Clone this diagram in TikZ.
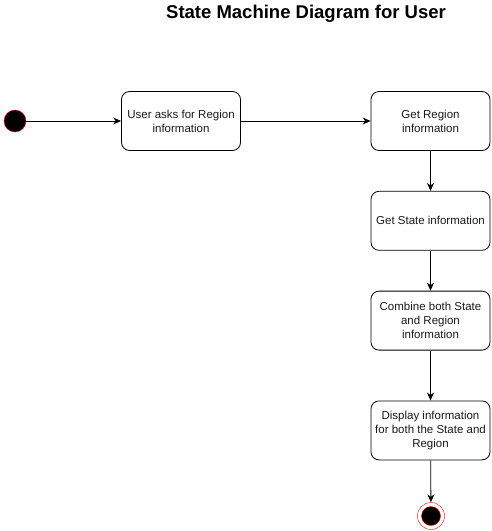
\documentclass[tikz,border=0pt]{standalone}
\usepackage{fontspec}
\setmainfont{Liberation Sans}
\usetikzlibrary{positioning,arrows.meta}
\definecolor{boxtext}{rgb}{0.1, 0.1, 0.1}

\begin{document}
\begin{tikzpicture}[
    x=1pt, y=-1pt,
    >={Stealth[length=8pt,width=7pt]},
    state/.style={draw, line width=0.8pt, rounded corners=8pt, minimum height=59pt, minimum width=119pt, align=center, inner sep=1pt, font=\fontsize{11.5}{14}\selectfont, text=boxtext},
    initial/.style={circle, draw=red, fill=black, minimum size=22pt, inner sep=0pt},
    final/.style={circle, draw=red, fill=white, minimum size=27pt, inner sep=0pt,
        path picture={\fill[black, draw=red] (path picture bounding box.center) circle (9.5pt);}}
]
\useasboundingbox (0,0) rectangle (491,531);

% Title
\node[font=\bfseries\fontsize{18.5}{22}\selectfont] (title) at (306,14) {State Machine Diagram for User};

% Start
\node[initial] (start) at (15,121) {};

% States
\node[state] (ask) at (181,121) {User asks for Region\\information};
\node[state] (region) at (430.5,121) {Get Region\\information};
\node[state, below=40pt of region] (statei) {Get State information};
\node[state, below=40pt of statei] (combine) {Combine both State\\and Region\\information};
\node[state, below=50pt of combine] (display) {Display information\\for both the State and\\Region};

% End
\node[final] (stop) at (431,516) {};

% Connections
\draw[->, line width=0.8pt] (start) -- (ask);
\draw[->, line width=0.8pt] (ask) -- (region);
\draw[->, line width=0.8pt] (region) -- (statei);
\draw[->, line width=0.8pt] (statei) -- (combine);
\draw[->, line width=0.8pt] (combine) -- (display);
\draw[->, line width=0.8pt] (display) -- (stop);

\end{tikzpicture}
\end{document}
